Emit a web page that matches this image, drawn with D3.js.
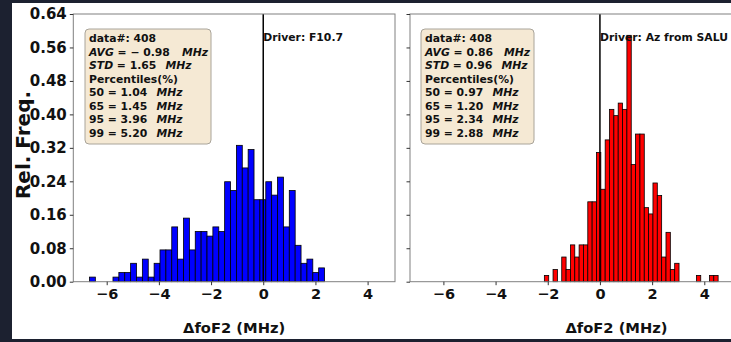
<!DOCTYPE html>
<html>
<head>
<meta charset="utf-8">
<script src="https://cdn.jsdelivr.net/npm/d3@7"></script>
<style>
  html, body { margin: 0; padding: 0; background: #1c2130; }
  svg { display: block; }
  text { font-family: "DejaVu Sans", sans-serif; font-weight: bold; white-space: pre; }
</style>
</head>
<body>
<svg id="chart" width="731" height="342"></svg>
<script>
// Relative frequency (density) of ΔfoF2 per bin, 40 bins each
const leftRange = [-6.66, 2.35];
const leftFreq = [0.011, 0, 0, 0, 0.011, 0.022, 0.022, 0.044, 0.011, 0.054,
                  0.011, 0.044, 0.076, 0.076, 0.131, 0.054, 0.152, 0.076, 0.120, 0.120,
                  0.109, 0.131, 0.120, 0.239, 0.218, 0.326, 0.272, 0.316, 0.196, 0.196,
                  0.239, 0.207, 0.250, 0.131, 0.218, 0.087, 0.044, 0.054, 0.022, 0.033];

const rightRange = [-2.13, 4.53];
const rightFreq = [0.015, 0, 0.029, 0, 0.059, 0.029, 0.088, 0.059, 0.088, 0.088,
                   0.191, 0.191, 0.309, 0.221, 0.339, 0.412, 0.397, 0.427, 0.412, 0.589,
                   0.280, 0.353, 0.353, 0.177, 0.162, 0.236, 0.206, 0.059, 0.118, 0.029,
                   0.044, 0, 0, 0, 0, 0.015, 0, 0, 0.015, 0.015];

const drivers = ["Driver: F10.7", "Driver: Az from SALU"];
const sampleCounts = [408, 408];
const averages = ["\u2212 0.98", "0.86"];
const stdDevs = ["1.65", "0.96"];
const percentileLevels = [50, 65, 95, 99];
const leftPercentiles = ["1.04", "1.45", "3.96", "5.20"];
const rightPercentiles = ["0.97", "1.20", "2.34", "2.88"];

const xTicks = [-6, -4, -2, 0, 2, 4];
const yTicks = [0, 0.08, 0.16, 0.24, 0.32, 0.40, 0.48, 0.56, 0.64];

const svg = d3.select("#chart");

// figure canvas
svg.append("rect").attr("x", 0).attr("y", 0).attr("width", 731).attr("height", 342).attr("fill", "#1c2130");
svg.append("rect").attr("x", 12).attr("y", 3).attr("width", 719).attr("height", 336).attr("fill", "#ffffff");

const y = d3.scaleLinear().domain([0, 0.64]).range([281.7, 14]);

const panels = [
  { x: d3.scaleLinear().domain([-7.28, 5.05]).range([73.3, 395]), range: leftRange, freq: leftFreq,
    color: "#0000ff", driver: drivers[0], n: sampleCounts[0], avg: averages[0], std: stdDevs[0],
    pct: leftPercentiles, box: [85, 29, 126, 115], unitX: [93, 76.5, 67.5], yLabels: true },
  { x: d3.scaleLinear().domain([-7.28, 8.55]).range([410, 823]), range: rightRange, freq: rightFreq,
    color: "#ff0000", driver: drivers[1], n: sampleCounts[1], avg: averages[1], std: stdDevs[1],
    pct: rightPercentiles, box: [421, 29, 113, 115], unitX: [79, 76.5, 67.5], yLabels: false }
];

panels.forEach(p => {
  const g = svg.append("g");
  const [x0, x1] = p.x.range();
  const bw = (p.range[1] - p.range[0]) / p.freq.length;

  // histogram bars
  g.selectAll("rect.bar").data(p.freq).join("rect")
    .attr("class", "bar")
    .attr("x", (d, i) => p.x(p.range[0] + i * bw))
    .attr("width", (d, i) => p.x(p.range[0] + (i + 1) * bw) - p.x(p.range[0] + i * bw))
    .attr("y", d => y(d))
    .attr("height", d => y(0) - y(d))
    .attr("fill", p.color)
    .attr("stroke", "#000")
    .attr("stroke-width", 0.8);

  // vertical reference at zero
  g.append("line")
    .attr("x1", p.x(0)).attr("x2", p.x(0))
    .attr("y1", y(0.64)).attr("y2", y(0))
    .attr("stroke", "#000").attr("stroke-width", 1.5);

  // frame
  g.append("rect")
    .attr("x", x0).attr("y", y(0.64))
    .attr("width", x1 - x0).attr("height", y(0) - y(0.64))
    .attr("fill", "none").attr("stroke", "#808080").attr("stroke-width", 1);

  // x axis
  const xa = g.append("g").attr("transform", `translate(0,${y(0)})`)
    .call(d3.axisBottom(p.x).tickValues(xTicks).tickSize(3.5).tickPadding(4)
      .tickFormat(d => d < 0 ? "\u2212" + Math.abs(d) : String(d)));
  xa.select(".domain").remove();
  xa.selectAll("line").attr("stroke", "#333");
  xa.selectAll("text").attr("font-size", "14.5px").attr("fill", "#111")
    .attr("font-family", "DejaVu Sans").attr("font-weight", "bold");

  // y axis
  const ya = g.append("g").attr("transform", `translate(${x0},0)`)
    .call(d3.axisLeft(y).tickValues(yTicks).tickSize(3.5).tickPadding(3)
      .tickFormat(p.yLabels ? d3.format(".2f") : ""));
  ya.select(".domain").remove();
  ya.selectAll("line").attr("stroke", "#333");
  ya.selectAll("text").attr("font-size", "15px").attr("fill", "#111")
    .attr("font-family", "DejaVu Sans").attr("font-weight", "bold");

  // x label
  g.append("text")
    .attr("x", (x0 + x1) / 2).attr("y", 333)
    .attr("text-anchor", "middle").attr("font-size", "14.7px").attr("fill", "#111")
    .text("\u0394foF2 (MHz)");

  // driver caption
  g.append("text")
    .attr("x", p.x(0)).attr("y", 41)
    .attr("font-size", "10.8px").attr("fill", "#111")
    .text(p.driver);

  // statistics box
  const [bx, by, bwd, bh] = p.box;
  g.append("rect")
    .attr("x", bx).attr("y", by).attr("width", bwd).attr("height", bh)
    .attr("rx", 4).attr("fill", "#f5e9d4").attr("stroke", "#a9a49a").attr("stroke-width", 1);

  const tx = bx + 4;
  const lines = [
    { segs: [["data#: " + p.n, false]] },
    { segs: [["AVG", true], [" = " + p.avg, false]], unit: p.unitX[0] },
    { segs: [["STD", true], [" = " + p.std, false]], unit: p.unitX[1] },
    { segs: [["Percentiles(%)", false]] }
  ].concat(percentileLevels.map((lv, i) => ({ segs: [[lv + " = " + p.pct[i], false]], unit: p.unitX[2] })));

  lines.forEach((ln, i) => {
    const t = g.append("text")
      .attr("x", tx).attr("y", by + 13 + i * 13.5)
      .attr("font-size", "10.8px").attr("fill", "#111");
    ln.segs.forEach(([s, it]) => {
      t.append("tspan").attr("font-style", it ? "italic" : "normal").text(s);
    });
    if (ln.unit !== undefined) {
      t.append("tspan").attr("x", tx + ln.unit).attr("font-style", "italic").text("MHz");
    }
  });
});

// shared y label
svg.append("text")
  .attr("transform", "translate(30,145) rotate(-90)")
  .attr("text-anchor", "middle").attr("font-size", "20px").attr("fill", "#111")
  .text("Rel. Freq.");
</script>
</body>
</html>
